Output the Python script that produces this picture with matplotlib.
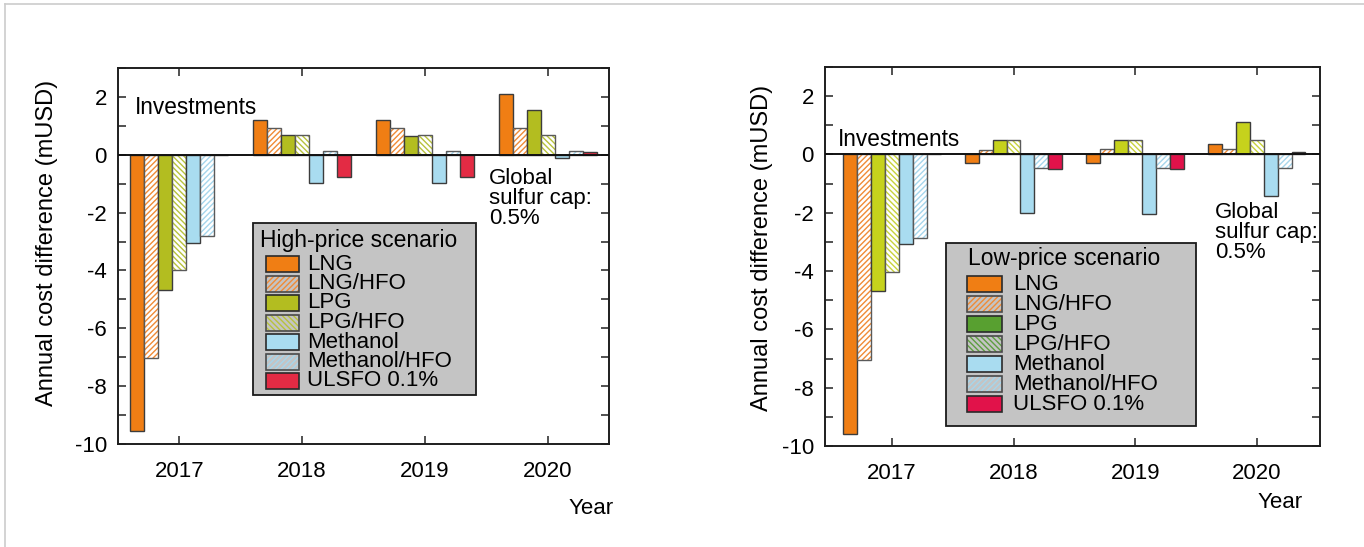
import numpy as np
import matplotlib
matplotlib.use("Agg")
import matplotlib.pyplot as plt
from matplotlib.patches import Rectangle
from matplotlib.lines import Line2D
from matplotlib.ticker import MultipleLocator

plt.rcParams['font.family'] = ['Liberation Sans', 'DejaVu Sans']
plt.rcParams['hatch.linewidth'] = 1.0

years = [2017, 2018, 2019, 2020]
fuels = ["LNG", "LNG/HFO", "LPG", "LPG/HFO", "Methanol", "Methanol/HFO", "ULSFO 0.1%"]

# Annual cost difference (mUSD) per fuel option, one value per year
high_lng = [-9.55, 1.19, 1.21, 2.11]
high_lng_hfo = [-7.02, 0.91, 0.93, 0.93]
high_lpg = [-4.66, 0.69, 0.66, 1.55]
high_lpg_hfo = [-4.00, 0.69, 0.68, 0.70]
high_meoh = [-3.05, -0.98, -0.98, -0.10]
high_meoh_hfo = [-2.82, 0.12, 0.12, 0.12]
high_ulsfo = [0.0, -0.77, -0.77, 0.09]

low_lng = [-9.59, -0.29, -0.29, 0.35]
low_lng_hfo = [-7.05, 0.17, 0.19, 0.19]
low_lpg = [-4.70, 0.49, 0.49, 1.13]
low_lpg_hfo = [-4.02, 0.48, 0.49, 0.49]
low_meoh = [-3.07, -2.02, -2.03, -1.43]
low_meoh_hfo = [-2.85, -0.46, -0.46, -0.46]
low_ulsfo = [0.0, -0.51, -0.51, 0.09]

y_ticks = [-10, -8, -6, -4, -2, 0, 2]

high_series = [high_lng, high_lng_hfo, high_lpg, high_lpg_hfo,
               high_meoh, high_meoh_hfo, high_ulsfo]
low_series = [low_lng, low_lng_hfo, low_lpg, low_lpg_hfo,
              low_meoh, low_meoh_hfo, low_ulsfo]

ORANGE = "#f07e14"
OLIVE = "#b3bd20"
LIME = "#c6d21c"
GREEN = "#58a030"
BLUE = "#a9dcf0"
RED_H = "#e32b44"
RED_L = "#e1124a"

FWD = "//////"
BCK = "\\\\\\\\\\\\"

# (fill colour, hatch pattern, hatch colour) for bars of each fuel
high_style = [
    (ORANGE, None, None),
    ("none", FWD, "#f08b36"),
    (OLIVE, None, None),
    ("none", BCK, "#b8c23c"),
    (BLUE, None, None),
    ("none", FWD, "#a6d6ec"),
    (RED_H, None, None),
]
low_style = [
    (ORANGE, None, None),
    ("none", FWD, "#f08b36"),
    (LIME, None, None),
    ("none", BCK, "#c8d23c"),
    (BLUE, None, None),
    ("none", FWD, "#a6d6ec"),
    (RED_L, None, None),
]
# the low-price key shows LPG in a darker green than the bars
low_key_style = list(low_style)
low_key_style[2] = (GREEN, None, None)
low_key_style[3] = ("none", BCK, "#5e9e40")

EDGE = "#3c3c3c"
HEDGE = "#5a5a5a"
FS = 16


def draw_bars(ax, series, styles):
    n = len(series)
    w = 0.8 / n
    x = np.array(years, dtype=float)
    for i, (vals, (fc, hatch, hc)) in enumerate(zip(series, styles)):
        xs = x + (i - (n - 1) / 2) * w
        if hatch is None:
            ax.bar(xs, vals, width=w, color=fc, edgecolor=EDGE,
                   linewidth=1.0, zorder=2)
        else:
            ax.bar(xs, vals, width=w, facecolor="white", edgecolor=hc,
                   hatch=hatch, linewidth=0, zorder=2)
            ax.bar(xs, vals, width=w, fill=False, edgecolor=HEDGE,
                   linewidth=1.0, zorder=2)


def draw_key(ax, title, styles, box, title_xy, patch_x, entry_y0, dy, text_x,
             pw, ph):
    # box = (x0, y0, x1, y1) in axes fraction; other positions in axes fraction
    x0, y0, x1, y1 = box
    ax.add_patch(Rectangle((x0, y0), x1 - x0, y1 - y0, transform=ax.transAxes,
                           facecolor="#c4c4c4", edgecolor="#1a1a1a",
                           linewidth=1.3, zorder=5, clip_on=False))
    ax.text(title_xy[0], title_xy[1], title, transform=ax.transAxes,
            fontsize=FS + 0.5, ha="left", va="center", zorder=6)
    for k, (name, (fc, hatch, hc)) in enumerate(zip(fuels, styles)):
        yc = entry_y0 - k * dy
        if hatch is None:
            ax.add_patch(Rectangle((patch_x, yc - ph / 2), pw, ph,
                                   transform=ax.transAxes, facecolor=fc,
                                   edgecolor="#2a2a2a", linewidth=1.2,
                                   zorder=6))
        else:
            ax.add_patch(Rectangle((patch_x, yc - ph / 2), pw, ph,
                                   transform=ax.transAxes, facecolor="none",
                                   edgecolor=hc, hatch=hatch, linewidth=0,
                                   zorder=6))
            ax.add_patch(Rectangle((patch_x, yc - ph / 2), pw, ph,
                                   transform=ax.transAxes, fill=False,
                                   edgecolor="#4a4a4a", linewidth=1.2,
                                   zorder=6))
        ax.text(text_x, yc, name, transform=ax.transAxes, fontsize=FS,
                ha="left", va="center", zorder=6)


def style_axes(ax, xlim):
    ax.set_xlim(*xlim)
    ax.set_ylim(-10, 3)
    ax.set_xticks(years)
    ax.set_xticklabels([str(y) for y in years])
    ax.set_yticks(y_ticks)
    ax.set_yticklabels([str(v) for v in y_ticks])
    ax.yaxis.set_minor_locator(MultipleLocator(1))
    ax.tick_params(axis="both", which="both", direction="in", length=6,
                   width=1.1, color="#222222", top=True, right=True,
                   labelsize=FS)
    ax.tick_params(axis="y", pad=8)
    ax.tick_params(axis="x", pad=12)
    for s in ax.spines.values():
        s.set_linewidth(1.4)
        s.set_color("#1e1e1e")
    ax.axhline(0, color="#111111", linewidth=1.4, zorder=3)


fig = plt.figure(figsize=(13.64, 5.47), dpi=100)
W, H = 1364.0, 547.0

# frame around the figure
fig.add_artist(Line2D([5 / W, 1], [1 - 4 / H, 1 - 4 / H], color="#cccccc",
                      linewidth=1.2, transform=fig.transFigure))
fig.add_artist(Line2D([5 / W, 5 / W], [0, 1 - 4 / H], color="#cccccc",
                      linewidth=1.2, transform=fig.transFigure))


def fx(px, ax_left, ax_w):
    return (px - ax_left) / ax_w


def fy(py, ax_bottom, ax_h):
    return (ax_bottom - py) / ax_h


# left panel: high-price scenario
aL, aW, aB, aH = 118, 491, 444, 376
axL = fig.add_axes([aL / W, 1 - aB / H, aW / W, aH / H])
draw_bars(axL, high_series, high_style)
style_axes(axL, (2016.5, 2020.5))
axL.text(fx(135, aL, aW), fy(108, aB, aH), "Investments", transform=axL.transAxes,
         fontsize=FS + 0.3, ha="left", va="center")
axL.text(fx(489, aL, aW), fy(168, aB, aH), "Global\nsulfur cap:\n0.5%",
         transform=axL.transAxes, fontsize=FS, ha="left", va="top",
         linespacing=0.95)
draw_key(axL, "High-price scenario", high_style,
         (fx(253, aL, aW), fy(395, aB, aH), fx(476, aL, aW), fy(223, aB, aH)),
         (fx(260, aL, aW), fy(240, aB, aH)),
         fx(266, aL, aW), fy(264, aB, aH), 19.5 / aH, fx(307, aL, aW),
         33 / aW, 16 / aH)
axL.text(fx(591, aL, aW), fy(509, aB, aH), "Year", transform=axL.transAxes,
         fontsize=FS, ha="center", va="center")
fig.text(47 / W, 1 - 243 / H, "Annual cost difference (mUSD)", rotation=90,
         fontsize=FS + 1, ha="center", va="center")

# right panel: low-price scenario
bL, bW, bB, bH = 825, 495, 446, 379
axR = fig.add_axes([bL / W, 1 - bB / H, bW / W, bH / H])
draw_bars(axR, low_series, low_style)
style_axes(axR, (2016.45, 2020.52))
axR.text(fx(838, bL, bW), fy(140, bB, bH), "Investments", transform=axR.transAxes,
         fontsize=FS + 0.3, ha="left", va="center", zorder=1,
         bbox=dict(facecolor="white", edgecolor="none", pad=0))
axR.text(fx(1215, bL, bW), fy(202, bB, bH), "Global\nsulfur cap:\n0.5%",
         transform=axR.transAxes, fontsize=FS, ha="left", va="top",
         linespacing=0.95)
draw_key(axR, "Low-price scenario", low_key_style,
         (fx(946, bL, bW), fy(426, bB, bH), fx(1196, bL, bW), fy(243, bB, bH)),
         (fx(968, bL, bW), fy(258, bB, bH)),
         fx(967, bL, bW), fy(284, bB, bH), 20 / bH, fx(1013, bL, bW),
         35 / bW, 16 / bH)
axR.text(fx(1280, bL, bW), fy(503, bB, bH), "Year", transform=axR.transAxes,
         fontsize=FS, ha="center", va="center")
fig.text(762 / W, 1 - 248 / H, "Annual cost difference (mUSD)", rotation=90,
         fontsize=FS + 1, ha="center", va="center")

fig.savefig("out.png", dpi=100)
